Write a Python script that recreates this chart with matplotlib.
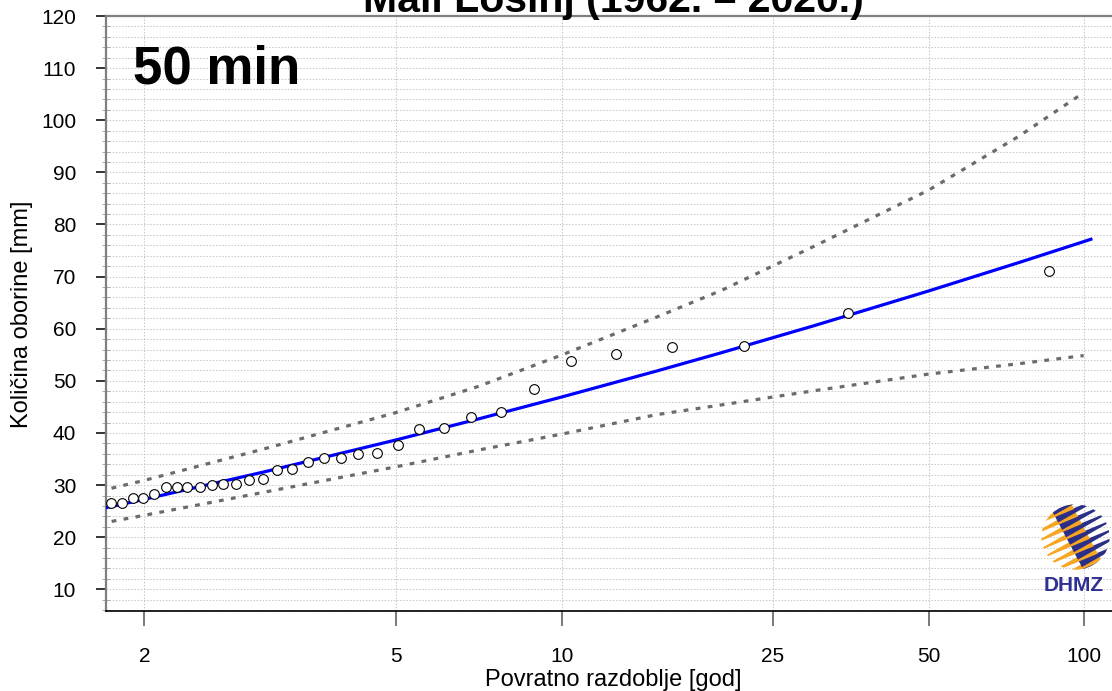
import numpy as np
import matplotlib
matplotlib.use('Agg')
import matplotlib.pyplot as plt
from matplotlib.patches import Circle, Polygon
from matplotlib.ticker import NullLocator

plt.rcParams['font.family'] = ['Liberation Sans', 'DejaVu Sans']

# ---------------- data ----------------
title = "Mali Lošinj (1962. – 2020.)"
duration_label = "50 min"
xlabel = "Povratno razdoblje [god]"
ylabel = "Količina oborine [mm]"

xticks = [2, 5, 10, 25, 50, 100]
xtick_labels = ["2", "5", "10", "25", "50", "100"]
yticks = [10, 20, 30, 40, 50, 60, 70, 80, 90, 100, 110, 120]

# observed annual maxima: return period [god] and amount [mm]
obs_T = [1.81, 1.87, 1.93, 1.99, 2.06, 2.14, 2.22, 2.30, 2.40, 2.50, 2.60,
         2.72, 2.85, 3.00, 3.16, 3.34, 3.54, 3.77, 4.03, 4.31, 4.64, 5.05,
         5.50, 6.08, 6.79, 7.70, 8.87, 10.39, 12.61, 16.06, 22.0, 34.9, 85.6]
obs_mm = [26.6, 26.6, 27.5, 27.6, 28.2, 29.6, 29.6, 29.7, 29.7, 30.0, 30.3,
          30.3, 30.9, 31.2, 32.9, 33.0, 34.4, 35.1, 35.1, 36.0, 36.2, 37.7,
          40.8, 41.0, 43.1, 44.0, 48.5, 53.8, 55.1, 56.5, 56.7, 63.1, 71.1]

# fitted distribution curve
fit_T = [1.7, 1.8, 2, 3, 5, 7, 10, 15, 20, 30, 50, 75, 100, 104]
fit_mm = [24.97, 25.80, 27.27, 32.49, 38.65, 42.66, 46.93, 51.86, 55.43,
          60.57, 67.25, 72.73, 76.71, 77.26]

# confidence band
band_T = [1.75, 2, 3, 5, 7, 10, 15, 20, 30, 50, 75, 100]
upper_mm = [28.85, 30.9, 36.9, 43.9, 48.9, 55.0, 62.2, 67.4, 75.8, 86.6, 97.0, 105.3]
lower_mm = [22.6, 24.2, 28.6, 33.5, 36.7, 39.8, 43.5, 45.4, 48.1, 51.3, 53.3, 54.85]


# Gumbel reduced-variate scale for the return period axis
def fwd(T):
    T = np.asarray(T, dtype=float)
    with np.errstate(all='ignore'):
        return -np.log(-np.log(1.0 - 1.0 / T))


def inv(u):
    u = np.asarray(u, dtype=float)
    with np.errstate(all='ignore'):
        return 1.0 / (1.0 - np.exp(-np.exp(-u)))


W, H = 1112, 691
fig = plt.figure(figsize=(W / 100, H / 100), dpi=100)
fig.patch.set_facecolor('white')

ax = fig.add_axes([106 / W, 80 / H, 1014 / W, 595 / H])
ax.set_xscale('function', functions=(fwd, inv))
ax.set_xlim(1.782, 117.7)
ax.set_ylim(5.84, 120)

# grid
for v in np.arange(6, 120, 2):
    ax.axhline(v, color='#c8c8c8', lw=0.75, ls=(0, (1.4, 1.6)), zorder=0)
for t in xticks:
    ax.axvline(t, color='#c8c8c8', lw=0.75, ls=(0, (1.4, 1.6)), zorder=0)

# confidence band
ax.plot(band_T, upper_mm, color='#6b6b6b', lw=2.3, ls=(0, (1.5, 2.3)),
        dash_capstyle='butt', zorder=3)
ax.plot(band_T, lower_mm, color='#6b6b6b', lw=2.3, ls=(0, (1.5, 2.3)),
        dash_capstyle='butt', zorder=3)

# fit
ax.plot(fit_T, fit_mm, color='#0000ff', lw=2.3, zorder=4,
        solid_capstyle='butt')

# observations
ax.plot(obs_T, obs_mm, ls='none', marker='o', ms=7, mfc='white',
        mec='black', mew=0.8, zorder=5)

# ticks
ax.set_xticks(xticks)
ax.set_xticklabels(xtick_labels)
ax.xaxis.set_minor_locator(NullLocator())
ax.set_yticks(yticks)
ax.set_yticks(np.arange(6, 120, 2), minor=True)
ax.tick_params(axis='y', which='major', direction='out', length=7.5,
               width=1.1, color='black', labelsize=15, pad=14)
ax.tick_params(axis='y', which='minor', direction='inout', length=5.5,
               width=0.7, color='#a8a8a8')
ax.tick_params(axis='x', which='major', direction='out', length=11,
               width=1.1, color='#555555', labelsize=15, pad=15)

for s in ('left', 'top'):
    ax.spines[s].set_color('#7f7f7f')
    ax.spines[s].set_linewidth(1.6)
ax.spines['bottom'].set_color('black')
ax.spines['bottom'].set_linewidth(1.2)
ax.spines['right'].set_visible(False)

# texts
fig.text(613 / W, 1 - 12.5 / H, title, ha='center', va='baseline',
         fontsize=29.5, fontweight='bold')
fig.text(133 / W, 1 - 83 / H, duration_label, ha='left', va='baseline',
         fontsize=38, fontweight='bold')
fig.text(613 / W, 1 - 680 / H, xlabel, ha='center', va='center', fontsize=17)
fig.text(22 / W, 1 - 314 / H, ylabel, ha='center', va='center',
         fontsize=17, rotation=90)

# DHMZ logo
lax = fig.add_axes([1040 / W, 1 - 571 / H, 71 / W, 68 / H])
lax.set_xlim(-1.04, 1.04)
lax.set_ylim(-1.04, 1.04)
lax.axis('off')
clip = Circle((0, 0), 1.0, transform=lax.transData, facecolor='none',
              edgecolor='none')
lax.add_patch(clip)
ang = np.deg2rad(27)
d = np.array([np.cos(ang), np.sin(ang)])
n = np.array([-np.sin(ang), np.cos(ang)])
gold, navy = '#f6a623', '#2b2f86'
for k in range(10):
    c = -1.15 + k * 0.255
    base = c * n
    # gold streak (tapered, left part)
    p0 = base + (-1.4) * d
    p1 = base + 0.35 * d
    wg = 0.11
    poly = Polygon([p0, p1 + wg * n, p1 - wg * n], closed=True,
                   facecolor=gold, edgecolor='none')
    lax.add_patch(poly)
    poly.set_clip_path(clip)
    # navy streak (tapered, right part)
    b2 = base + 0.1 * n
    q0 = b2 + (-0.25) * d
    q1 = b2 + 1.45 * d
    wn = 0.11
    poly2 = Polygon([q0 + wn * n, q0 - wn * n, q1], closed=True,
                    facecolor=navy, edgecolor='none')
    lax.add_patch(poly2)
    poly2.set_clip_path(clip)

fig.text(1074 / W, 1 - 591 / H, 'DHMZ', ha='center', va='baseline',
         fontsize=15, fontweight='bold', color='#2e3192')

fig.savefig('out.png', dpi=100)
